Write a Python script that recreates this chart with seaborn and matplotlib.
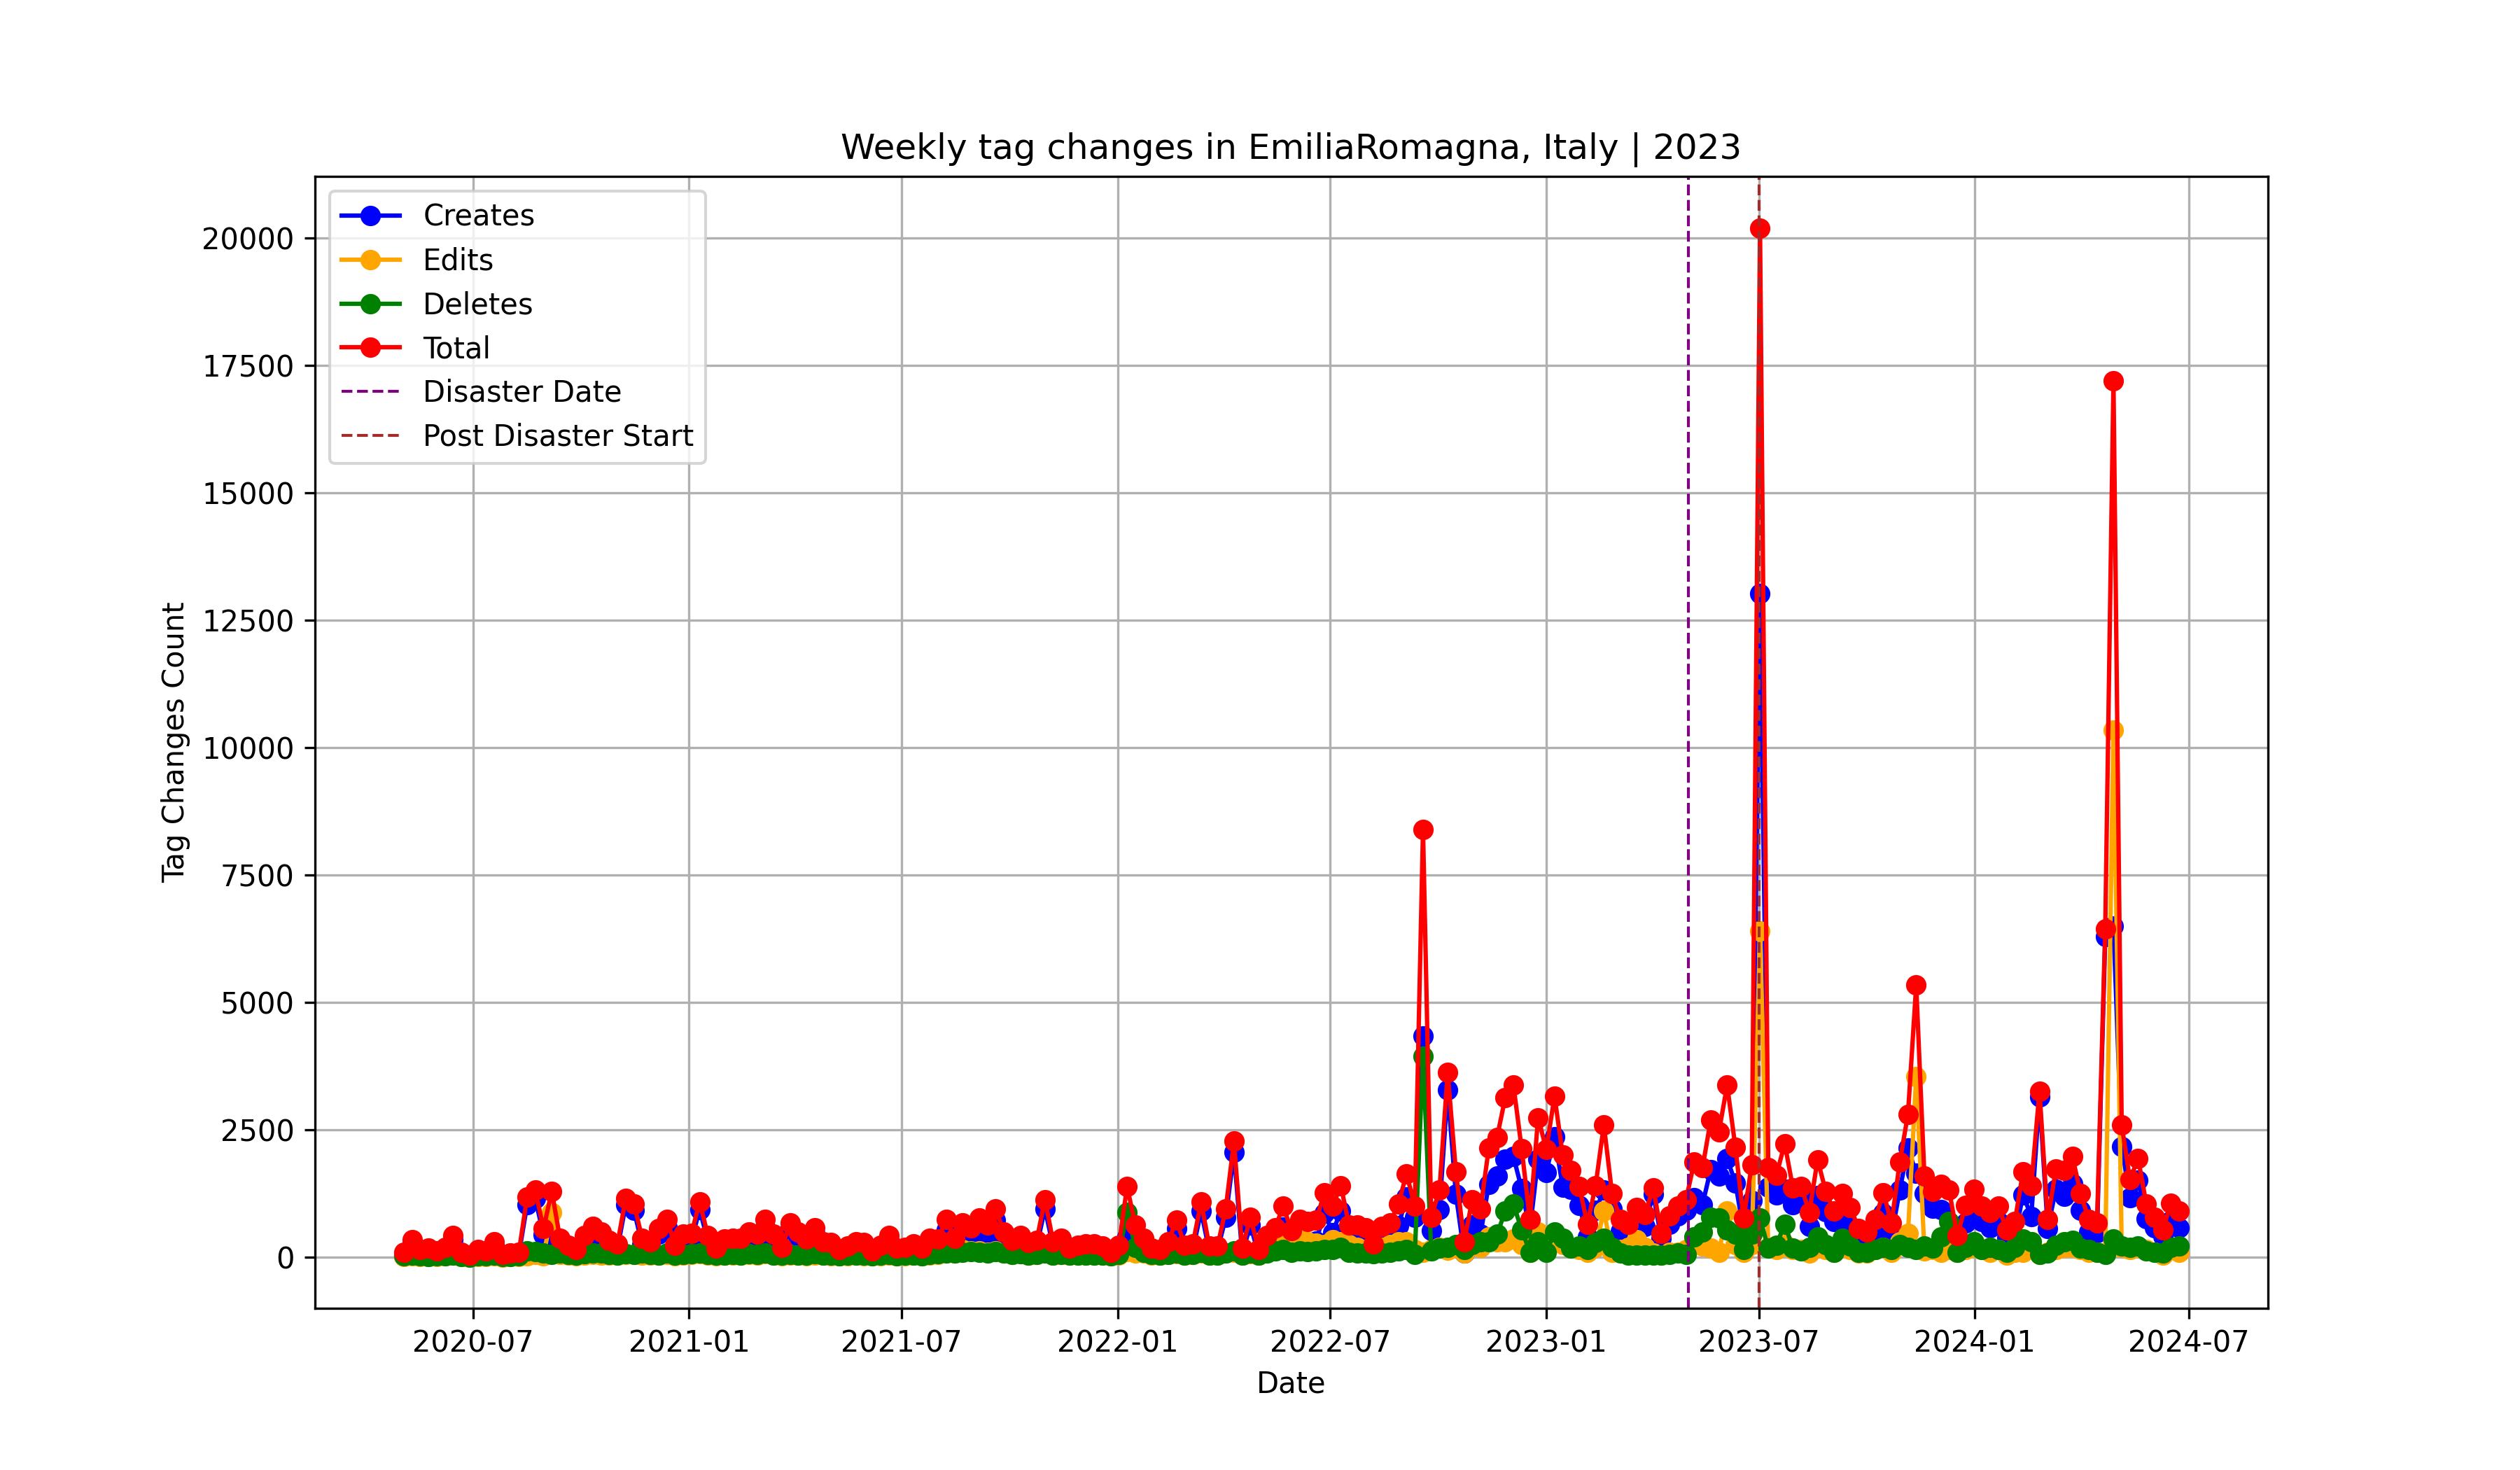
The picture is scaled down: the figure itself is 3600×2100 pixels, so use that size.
import numpy as np
import pandas as pd
import matplotlib
matplotlib.use("Agg")
import matplotlib.pyplot as plt
import seaborn as sns

# Weekly dates (Sundays)
start_date = "2020-05-03"
n_weeks = 217
disaster_date = "2023-05-02"
post_disaster_start = "2023-07-01"

total = [
    100, 350, 150, 175, 130, 200, 425, 105, 40, 150,
    130, 310, 60, 80, 105, 1180, 1320, 560, 1300, 380,
    240, 150, 425, 610, 495, 335, 265, 1160, 1045, 380,
    310, 560, 745, 240, 450, 470, 1090, 425, 175, 357,
    380, 380, 495, 450, 745, 450, 200, 680, 500, 357,
    585, 310, 290, 150, 220, 310, 290, 130, 240, 425,
    175, 200, 265, 175, 380, 357, 745, 380, 680, 585,
    770, 630, 955, 495, 335, 425, 290, 335, 1135, 310,
    380, 175, 240, 265, 265, 220, 105, 240, 1390, 630,
    380, 175, 150, 310, 725, 240, 265, 1090, 220, 220,
    950, 2280, 175, 790, 150, 425, 585, 1000, 520, 745,
    700, 725, 1270, 1000, 1410, 630, 630, 585, 265, 610,
    680, 1045, 1640, 1000, 8400, 790, 1320, 3630, 1685, 310,
    1135, 950, 2145, 2350, 3130, 3380, 2135, 745, 2740, 2120,
    3160, 2005, 1710, 1390, 655, 1410, 2600, 1250, 745, 655,
    975, 840, 1365, 470, 815, 1000, 1135, 1870, 1755, 2690,
    2465, 3380, 2165, 770, 1820, 20200, 1755, 1615, 2235, 1365,
    1390, 885, 1915, 1295, 905, 1250, 975, 565, 495, 745,
    1270, 680, 1870, 2810, 5340, 1595, 1295, 1435, 1320, 425,
    1020, 1340, 1000, 885, 1000, 540, 700, 1685, 1410, 3265,
    745, 1730, 1710, 1985, 1250, 745, 680, 6450, 17200, 2600,
    1525, 1940, 1045, 790, 540, 1065, 905,
]

edits = [
    20, 30, 20, 15, 20, 25, 40, 15, 10, 20,
    20, 30, 10, 15, 20, 30, 60, 30, 880, 60,
    40, 30, 50, 60, 50, 40, 40, 60, 60, 50,
    40, 50, 60, 30, 50, 60, 70, 50, 30, 40,
    50, 40, 60, 50, 70, 40, 30, 50, 40, 30,
    50, 40, 30, 25, 30, 40, 30, 25, 30, 50,
    30, 30, 40, 30, 50, 60, 120, 80, 150, 120,
    130, 100, 120, 80, 60, 70, 50, 60, 90, 50,
    60, 40, 50, 40, 50, 40, 30, 50, 110, 80,
    80, 50, 40, 60, 70, 50, 60, 80, 50, 40,
    90, 100, 50, 70, 50, 150, 200, 250, 300, 350,
    300, 280, 250, 350, 300, 250, 200, 150, 100, 200,
    250, 300, 300, 150, 100, 150, 200, 140, 200, 80,
    250, 200, 400, 300, 300, 360, 250, 100, 500, 350,
    300, 250, 200, 150, 100, 200, 905, 100, 150, 200,
    350, 190, 80, 50, 100, 100, 150, 300, 220, 175,
    100, 905, 250, 100, 250, 6400, 200, 150, 250, 150,
    150, 80, 300, 150, 100, 200, 150, 80, 80, 150,
    200, 100, 300, 470, 3540, 125, 150, 100, 150, 100,
    150, 200, 150, 100, 150, 50, 100, 100, 300, 60,
    100, 150, 200, 200, 150, 100, 100, 100, 10350, 200,
    150, 200, 150, 100, 50, 150, 100,
]

deletes = [
    30, 40, 25, 20, 30, 35, 45, 20, 10, 30,
    25, 40, 15, 20, 25, 120, 110, 90, 60, 80,
    60, 50, 70, 90, 80, 60, 50, 70, 60, 80,
    60, 50, 90, 40, 60, 70, 80, 60, 40, 50,
    60, 50, 70, 60, 80, 50, 40, 60, 50, 40,
    70, 50, 40, 30, 40, 50, 40, 30, 40, 60,
    30, 40, 50, 30, 60, 70, 90, 80, 100, 110,
    100, 90, 110, 80, 60, 70, 50, 60, 90, 50,
    60, 40, 50, 40, 50, 40, 30, 60, 885, 200,
    100, 60, 40, 60, 90, 50, 60, 100, 50, 40,
    80, 120, 50, 90, 40, 80, 120, 150, 100, 120,
    110, 120, 150, 160, 200, 100, 90, 80, 70, 90,
    100, 130, 150, 60, 3950, 120, 180, 200, 250, 150,
    250, 300, 310, 450, 905, 1045, 540, 105, 310, 105,
    495, 380, 175, 220, 150, 290, 380, 200, 80, 50,
    40, 40, 40, 50, 60, 80, 60, 400, 500, 790,
    770, 540, 450, 150, 450, 770, 175, 240, 655, 175,
    130, 200, 400, 250, 105, 380, 220, 105, 105, 150,
    200, 150, 250, 200, 150, 220, 175, 400, 700, 105,
    200, 310, 150, 200, 150, 100, 200, 357, 310, 60,
    80, 240, 310, 335, 175, 150, 100, 60, 357, 220,
    200, 220, 130, 105, 80, 200, 220,
]

creates = [
    50, 280, 105, 140, 80, 140, 340, 70, 20, 100,
    85, 240, 35, 45, 60, 1030, 1150, 440, 360, 240,
    140, 70, 305, 460, 365, 235, 175, 1030, 925, 250,
    210, 460, 595, 170, 340, 340, 940, 315, 105, 265,
    270, 290, 365, 340, 595, 360, 130, 570, 410, 285,
    465, 220, 220, 95, 150, 220, 220, 75, 170, 315,
    115, 130, 175, 115, 270, 225, 535, 220, 430, 355,
    540, 440, 725, 335, 215, 285, 190, 215, 955, 210,
    260, 95, 140, 185, 165, 140, 45, 130, 395, 350,
    200, 65, 70, 190, 565, 140, 145, 910, 120, 140,
    780, 2060, 75, 630, 60, 195, 265, 600, 120, 275,
    290, 325, 870, 490, 910, 280, 340, 355, 95, 320,
    330, 615, 1190, 790, 4350, 520, 940, 3290, 1235, 80,
    635, 450, 1435, 1600, 1925, 1975, 1345, 540, 1930, 1665,
    2365, 1375, 1335, 1020, 405, 920, 1315, 950, 515, 405,
    585, 610, 1245, 370, 655, 820, 925, 1170, 1035, 1725,
    1595, 1935, 1465, 520, 1120, 13030, 1380, 1225, 1330, 1040,
    1110, 605, 1215, 895, 700, 670, 605, 380, 310, 445,
    870, 430, 1320, 2140, 1650, 1250, 970, 935, 470, 220,
    670, 830, 700, 585, 700, 390, 400, 1230, 800, 3145,
    565, 1340, 1200, 1450, 925, 495, 480, 6290, 6500, 2180,
    1175, 1520, 765, 585, 410, 715, 585,
]

dates = pd.date_range(start=start_date, periods=n_weeks, freq="7D")
df = pd.DataFrame({"date": dates, "Creates": creates, "Edits": edits,
                   "Deletes": deletes, "Total": total})

fig, ax = plt.subplots(figsize=(12, 7), dpi=300)

series = [("Creates", "blue"), ("Edits", "orange"), ("Deletes", "green"), ("Total", "red")]
for name, col in series:
    sns.lineplot(data=df, x="date", y=name, ax=ax, color=col, label=name,
                 marker="o", markersize=6, markeredgecolor=col,
                 markeredgewidth=1.0, linewidth=1.5)

ax.axvline(pd.Timestamp(disaster_date), color="purple", linestyle="--",
           linewidth=1, label="Disaster Date")
ax.axvline(pd.Timestamp(post_disaster_start), color="brown", linestyle="--",
           linewidth=1, label="Post Disaster Start")

ax.set_title("Weekly tag changes in EmiliaRomagna, Italy | 2023")
ax.set_xlabel("Date")
ax.set_ylabel("Tag Changes Count")
ax.grid(True)
ax.legend(loc="upper left")

fig.savefig("out.png", dpi=300)
